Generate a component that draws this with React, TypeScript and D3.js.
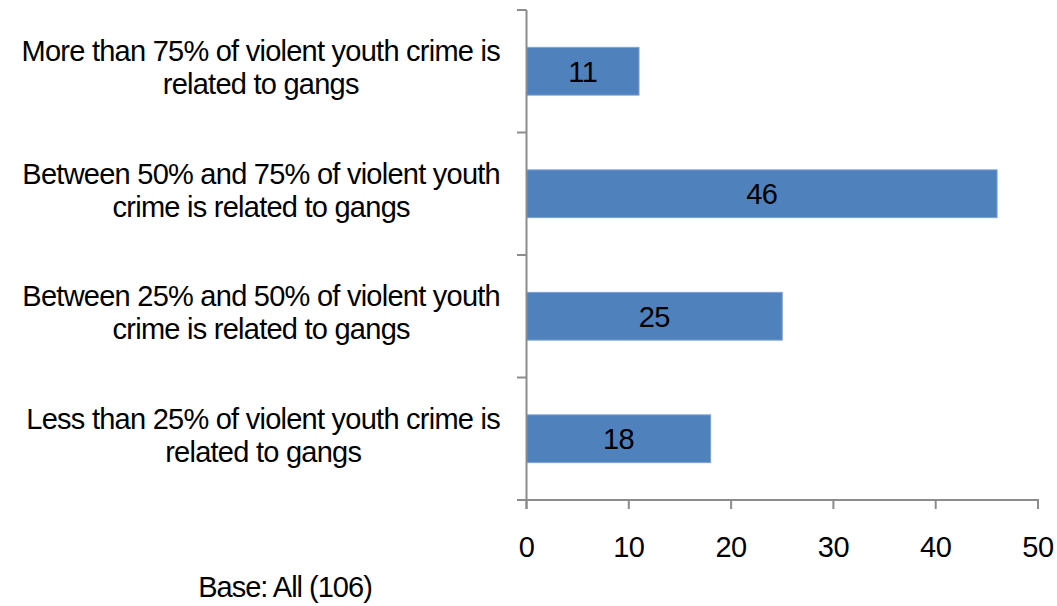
import React, { useEffect, useRef } from "react";
import * as d3 from "d3";

const categories: string[][] = [
  ["More than 75% of violent youth crime is", "related to gangs"],
  ["Between 50% and 75% of violent youth", "crime is related to gangs"],
  ["Between 25% and 50% of violent youth", "crime is related to gangs"],
  ["Less than 25% of violent youth crime is", "related to gangs"],
];
const values: number[] = [11, 46, 25, 18];
const xTicks: number[] = [0, 10, 20, 30, 40, 50];
const baseNote = "Base: All (106)";

const W = 1057;
const H = 606;
const FONT = "'Liberation Sans', Arial, sans-serif";

export default function App() {
  const ref = useRef<SVGSVGElement | null>(null);

  useEffect(() => {
    const svg = d3.select(ref.current);
    svg.selectAll("*").remove();

    const x = d3.scaleLinear().domain([0, 50]).range([526.5, 1038]);
    const y = d3
      .scaleBand<number>()
      .domain(values.map((_, i) => i))
      .range([10, 500])
      .paddingInner(0.61)
      .paddingOuter(0.305);
    const step = y.step();
    const bandTop = (i: number) => 10 + i * step;

    const axisColor = "#8c8c8c";

    svg
      .append("g")
      .selectAll("rect")
      .data(values)
      .join("rect")
      .attr("x", x(0))
      .attr("y", (_, i) => y(i)!)
      .attr("width", (d) => x(d) - x(0))
      .attr("height", y.bandwidth())
      .attr("fill", "#4F81BD")
      .attr("stroke", "#7fa3d3")
      .attr("stroke-width", 1);

    svg
      .append("g")
      .selectAll("text")
      .data(values)
      .join("text")
      .attr("x", (d) => (x(0) + x(d)) / 2)
      .attr("y", (_, i) => y(i)! + y.bandwidth() / 2 + 10.5)
      .attr("text-anchor", "middle")
      .attr("font-family", FONT)
      .attr("font-size", 29)
      .attr("letter-spacing", "-0.5")
      .attr("fill", "#000")
      .text((d) => String(d));

    const gy = svg.append("g").attr("stroke", axisColor).attr("stroke-width", 2);
    gy.append("line")
      .attr("x1", x(0))
      .attr("x2", x(0))
      .attr("y1", 10)
      .attr("y2", 509);
    d3.range(values.length + 1).forEach((i) => {
      const yy = bandTop(i);
      gy.append("line")
        .attr("x1", 517)
        .attr("x2", x(0))
        .attr("y1", yy)
        .attr("y2", yy);
    });

    const gx = svg.append("g").attr("stroke", axisColor).attr("stroke-width", 2);
    gx.append("line")
      .attr("x1", 517)
      .attr("x2", x(50) + 1)
      .attr("y1", 500)
      .attr("y2", 500);
    xTicks.forEach((t) => {
      gx.append("line")
        .attr("x1", x(t))
        .attr("x2", x(t))
        .attr("y1", 500)
        .attr("y2", 509);
    });
    svg
      .append("g")
      .selectAll("text")
      .data(xTicks)
      .join("text")
      .attr("x", (d) => x(d))
      .attr("y", 557)
      .attr("text-anchor", "middle")
      .attr("font-family", FONT)
      .attr("font-size", 29)
      .attr("letter-spacing", "-0.5")
      .attr("fill", "#000")
      .text((d) => String(d));

    const gl = svg.append("g");
    categories.forEach((lines, i) => {
      const c = bandTop(i) + step / 2;
      const texts = lines.map((ln, j) =>
        gl
          .append("text")
          .attr("y", c - 10 + j * 33)
          .attr("text-anchor", "middle")
          .attr("font-family", FONT)
          .attr("font-size", 29)
          .attr("letter-spacing", "-0.75")
          .attr("fill", "#000")
          .text(ln)
      );
      const maxW = d3.max(texts, (t) => (t.node() as SVGTextElement).getComputedTextLength()) || 0;
      const cx = 500 - maxW / 2;
      texts.forEach((t) => t.attr("x", cx));
    });

    svg
      .append("text")
      .attr("x", 285)
      .attr("y", 597)
      .attr("text-anchor", "middle")
      .attr("font-family", FONT)
      .attr("font-size", 29)
      .attr("letter-spacing", "-1")
      .attr("fill", "#000")
      .text(baseNote);
  }, []);

  return (
    <svg
      ref={ref}
      width={W}
      height={H}
      style={{ position: "absolute", left: 0, top: 0, background: "#fff" }}
    />
  );
}
